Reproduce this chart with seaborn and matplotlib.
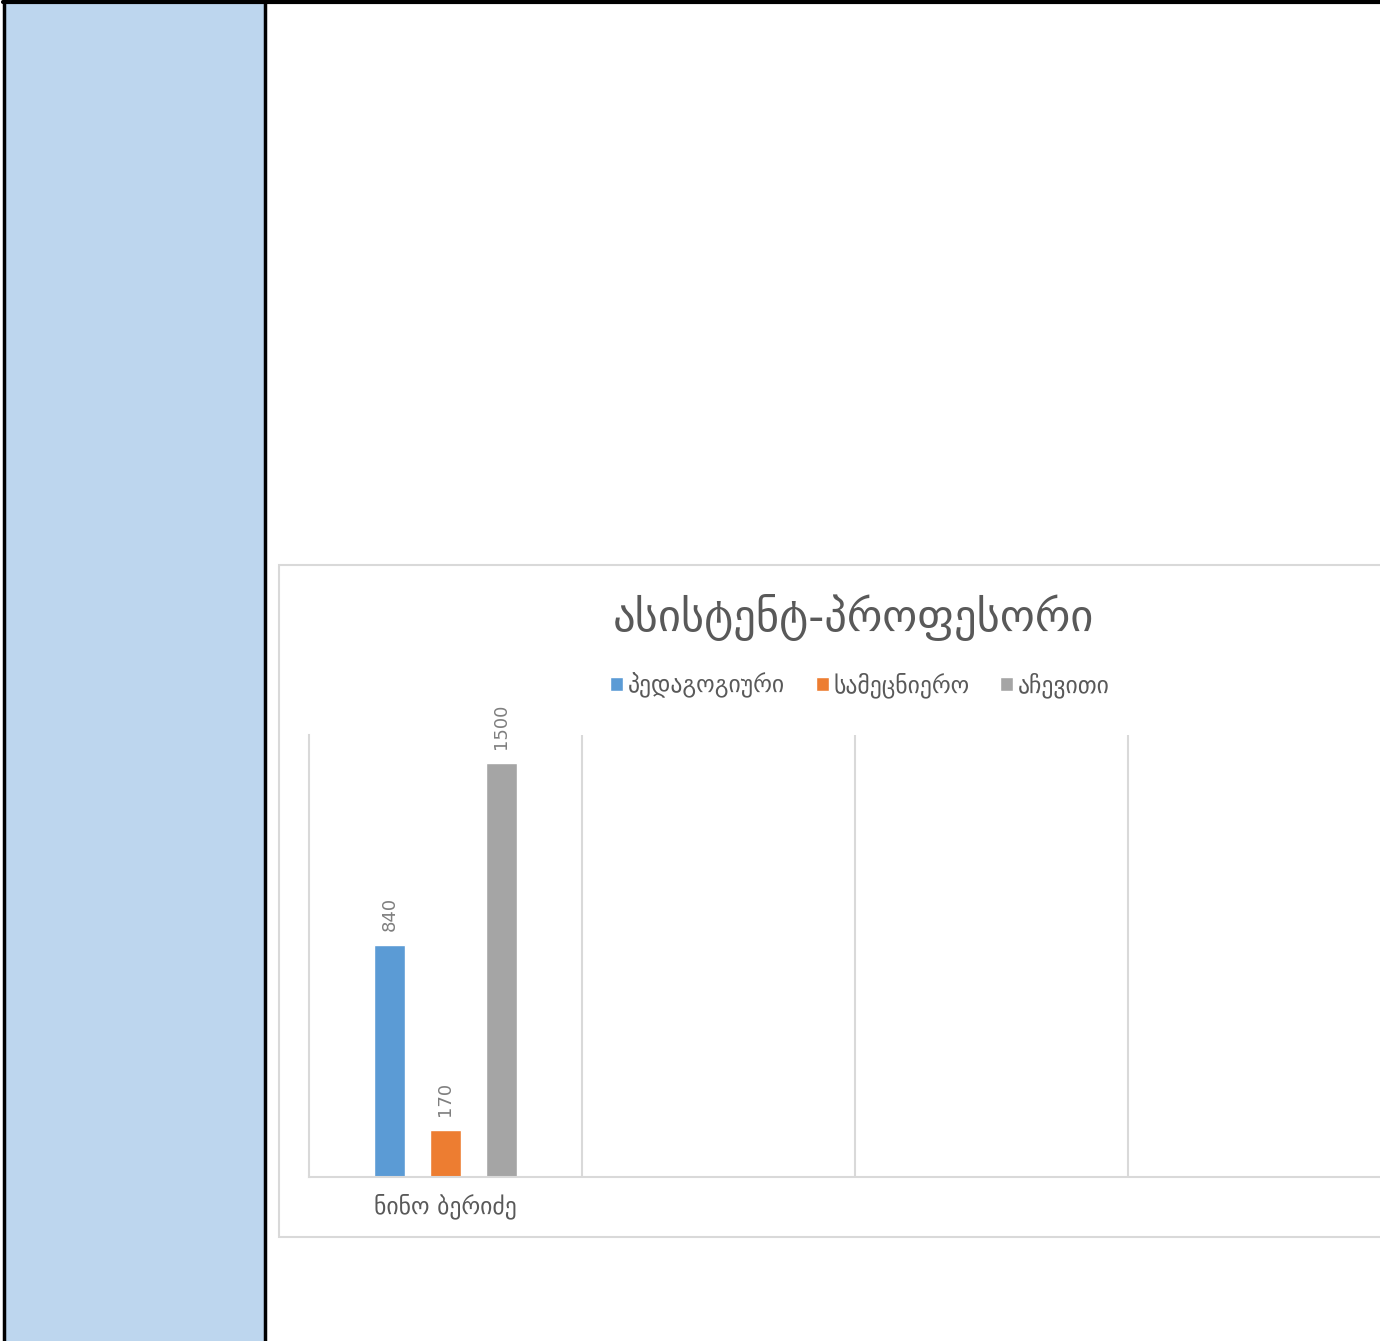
import numpy as np
import pandas as pd
import seaborn as sns
from matplotlib import pyplot as plt
from matplotlib.patches import Rectangle

# chart data
categories = ["ნინო ბერიძე"]
series = ["პედაგოგიური", "სამეცნიერო", "აჩევითი"]
values = [840, 170, 1500]
colors = ["#5B9BD5", "#ED7D31", "#A5A5A5"]
title = "ასისტენტ-პროფესორი"

df = pd.DataFrame({"name": categories * len(series), "kind": series, "value": values})

sns.set_style("white")
plt.rcParams['font.family'] = ['DejaVu Sans']

W, H = 1380, 1341
fig = plt.figure(figsize=(W / 100, H / 100), dpi=100)

# page background (table cell look), drawn in pixel coords
bg = fig.add_axes([0, 0, 1, 1])
bg.set_xlim(0, W)
bg.set_ylim(H, 0)
bg.axis('off')
bg.add_patch(Rectangle((5, 2), 259, H, facecolor="#BDD6EE", edgecolor="none"))
bg.plot([4, 4], [0, H], color="black", lw=2.5)
bg.plot([265, 265], [0, H], color="black", lw=2.5)
bg.plot([3, W], [1.5, 1.5], color="black", lw=3)
# chart frame
bg.add_patch(Rectangle((278.5, 565), 1200, 672, facecolor="white", edgecolor="#D9D9D9", lw=1.5))
bg.text(853, 617, title, ha='center', va='center', fontsize=32, color="#595959")

# plot area
left, right, top, bottom = 309, W, 735, 1177
ax = fig.add_axes([left / W, 1 - bottom / H, (right - left) / W, (bottom - top) / H])
sns.barplot(data=df, x="name", y="value", hue="kind", palette=colors, ax=ax,
            width=0.615, gap=0.46, saturation=1)

ax.set_ylim(0, 1600)
ax.set_xlim(-0.5, -0.5 + (right - left) / 273)
ax.set_facecolor("none")

for c in ax.containers:
    ax.bar_label(c, rotation=90, padding=10, fontsize=13, color="#7F7F7F")

ax.set_xticks([0.5, 1.5, 2.5], minor=True)
ax.grid(False)
ax.grid(True, which='minor', axis='x', color="#D9D9D9", lw=1.5)
ax.tick_params(axis='x', which='both', length=0, labelsize=17, labelcolor="#595959", pad=12)
ax.set_yticks([])
ax.set_xlabel("")
ax.set_ylabel("")
for s in ["top", "right"]:
    ax.spines[s].set_visible(False)
for s in ["left", "bottom"]:
    ax.spines[s].set_color("#D9D9D9")
    ax.spines[s].set_linewidth(1.5)

handles, labels = ax.get_legend_handles_labels()
ax.legend(handles, labels, loc='center', bbox_to_anchor=(860 / W, 1 - 685 / H),
          bbox_transform=fig.transFigure, ncol=3, frameon=False, fontsize=17,
          labelcolor="#595959", handlelength=0.55, handleheight=0.55,
          handletextpad=0.2, columnspacing=1.3)

fig.savefig("out.png", dpi=100)
